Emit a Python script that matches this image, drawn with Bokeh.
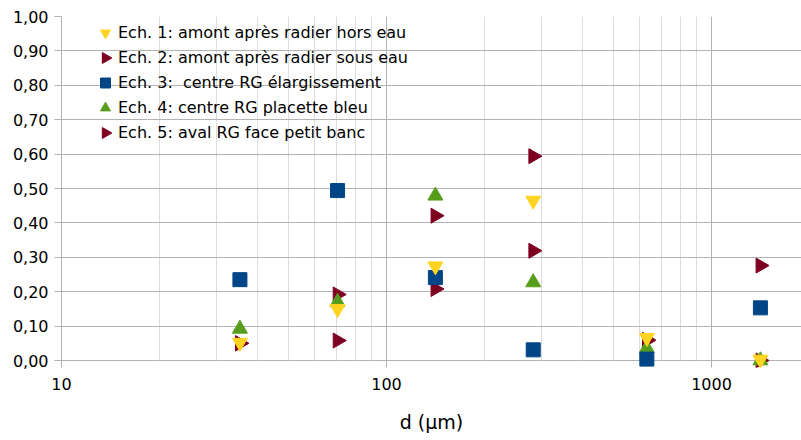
import numpy as np
from bokeh.plotting import figure
from bokeh.models import (FixedTicker, CustomJSTickFormatter, Legend, LegendItem,
                          Range1d, LinearScale, BoxAnnotation, Span)
from bokeh.embed import file_html
from bokeh.resources import INLINE

# ---- data ----
d_um = [35.4, 70.7, 141.4, 282.8, 632.5, 1414.2]
ech1 = [0.052, 0.150, 0.274, 0.465, 0.066, 0.003]
ech2 = [0.050, 0.058, 0.421, 0.319, 0.060, 0.276]
ech3 = [0.235, 0.494, 0.241, 0.031, 0.004, 0.153]
ech4 = [0.092, 0.170, 0.479, 0.227, 0.036, 0.000]
ech5 = [0.050, 0.192, 0.208, 0.594, 0.058, 0.000]

names = ["Ech. 1: amont après radier hors eau",
         "Ech. 2: amont après radier sous eau",
         "Ech. 3:  centre RG élargissement",
         "Ech. 4: centre RG placette bleu",
         "Ech. 5: aval RG face petit banc"]

y_ticks = [0.0, 0.1, 0.2, 0.3, 0.4, 0.5, 0.6, 0.7, 0.8, 0.9, 1.0]
x_ticks = [10, 100, 1000]
x_minor = [m * 10 ** e for e in (1, 2) for m in range(2, 10)]

YELLOW = "#ffd320"
RED = "#7e0021"
BLUE = "#004586"
GREEN = "#579d1c"
FONT = "DejaVu Sans"
GRID = "#b3b3b3"

# ---- layout constants (pixels) ----
W, H = 801, 440
TICK = 7                       # tick length below the zero line
PX_PER_UNIT = 344.0            # vertical pixels for 1.0
PX_PER_DECADE = 325.0
BL, BT = 61, 16
BB = H - BT - int(PX_PER_UNIT) - TICK
FW, FH = W - BL, H - BT - BB
LEG_X, LEG_TOP, ROW_H, GLYPH_W = 31, 4, 25, 26

p = figure(width=W, height=H, x_axis_type="log",
           x_range=Range1d(10, 10 ** (1 + FW / PX_PER_DECADE)),
           y_range=Range1d(-TICK / PX_PER_UNIT, 1),
           output_backend="svg", toolbar_location=None,
           min_border_left=BL, min_border_right=0,
           min_border_top=BT, min_border_bottom=BB)
p.outline_line_color = None
p.background_fill_color = "white"
# pixel-unit ranges for the legend's right-pointing markers
p.extra_x_ranges = {"px": Range1d(0, FW)}
p.extra_y_ranges = {"px": Range1d(FH, 0)}
p.extra_x_scales = {"px": LinearScale()}
p.extra_y_scales = {"px": LinearScale()}

# hide the grid below the zero line, then redraw the zero line
p.add_layout(BoxAnnotation(top=0, fill_color="white", fill_alpha=1,
                           line_color=None, level="underlay"))
p.add_layout(Span(location=0, dimension="width", line_color=GRID,
                  line_width=1, level="underlay"))

# draw order: later series underneath, series 1 on top
r5 = p.scatter(d_um, ech5, marker="triangle", angle=-np.pi / 2, size=15,
               fill_color=RED, line_color=RED)
r2 = p.scatter(d_um, ech2, marker="triangle", angle=-np.pi / 2, size=15,
               fill_color=RED, line_color=RED)
r4 = p.scatter(d_um, ech4, marker="triangle", size=15,
               fill_color=GREEN, line_color=GREEN)
r3 = p.scatter(d_um, ech3, marker="square", size=14,
               fill_color=BLUE, line_color=BLUE)
r1 = p.scatter(d_um, ech1, marker="inverted_triangle", size=15,
               fill_color=YELLOW, line_color=YELLOW)

# invisible stand-in for the red legend entries (legend glyphs are never rotated)
dummy = p.scatter([], [], marker="triangle", fill_alpha=0, line_alpha=0)

legend = Legend(items=[LegendItem(label=names[0], renderers=[r1]),
                       LegendItem(label=names[1], renderers=[dummy]),
                       LegendItem(label=names[2], renderers=[r3]),
                       LegendItem(label=names[3], renderers=[r4]),
                       LegendItem(label=names[4], renderers=[dummy])],
                location=(LEG_X, FH - LEG_TOP - 5 * ROW_H))
legend.label_text_font = FONT
legend.label_text_font_size = "16px"
legend.label_text_color = "#000000"
legend.background_fill_alpha = 0
legend.border_line_color = None
legend.glyph_width = GLYPH_W
legend.glyph_height = ROW_H
legend.label_height = ROW_H
legend.spacing = 0
legend.padding = 0
legend.margin = 0
legend.label_standoff = 0
p.add_layout(legend, "center")

# right-pointing legend markers for Ech. 2 and Ech. 5
leg_rows = [1, 4]
p.scatter([LEG_X + GLYPH_W / 2.0] * len(leg_rows),
          [LEG_TOP + ROW_H * (i + 0.5) for i in leg_rows],
          x_range_name="px", y_range_name="px",
          marker="triangle", angle=-np.pi / 2, size=11,
          fill_color=RED, line_color=RED)

# axes
p.yaxis.ticker = FixedTicker(ticks=y_ticks)
p.yaxis.formatter = CustomJSTickFormatter(code="return tick.toFixed(2).replace('.', ',');")
p.xaxis.ticker = FixedTicker(ticks=x_ticks, minor_ticks=x_minor)
p.xaxis.formatter = CustomJSTickFormatter(code="return String(Math.round(tick));")

for ax in (p.xaxis, p.yaxis):
    ax.axis_line_color = GRID
    ax.major_tick_line_color = GRID
    ax.minor_tick_out = 0
    ax.minor_tick_in = 0
    ax.major_label_text_font = FONT
    ax.major_label_text_font_size = "16px"
    ax.major_label_text_color = "#000000"

p.yaxis.major_tick_out = TICK
p.yaxis.major_tick_in = 0
p.xaxis.axis_line_color = None
p.xaxis.major_tick_out = 0
p.xaxis.major_tick_in = TICK

p.yaxis.major_label_standoff = 6
p.xaxis.major_label_standoff = 10
p.xaxis.axis_label = "d (µm)"
p.xaxis.axis_label_text_font = FONT
p.xaxis.axis_label_text_font_size = "19px"
p.xaxis.axis_label_text_font_style = "normal"
p.xaxis.axis_label_text_color = "#000000"
p.xaxis.axis_label_standoff = 18

p.xgrid.grid_line_color = GRID
p.xgrid.minor_grid_line_color = "#dddddd"
p.ygrid.grid_line_color = GRID

open("out.html", "w").write(file_html(p, INLINE))
